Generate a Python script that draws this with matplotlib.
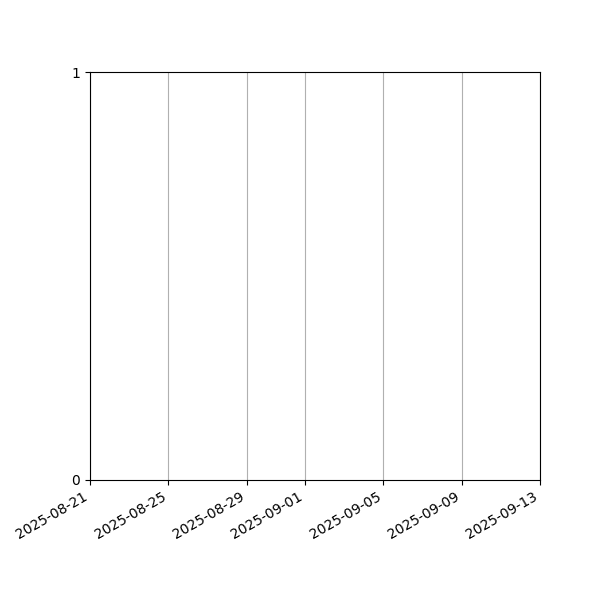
import matplotlib
matplotlib.use("Agg")
import matplotlib.pyplot as plt
import matplotlib.dates as mdates
import datetime as dt

# Data (chart shows no plotted series)
dates = []
values = []
x_range = ["2025-08-21", "2025-09-13"]
tick_labels = ["2025-08-21", "2025-08-25", "2025-08-29", "2025-09-01",
               "2025-09-05", "2025-09-09", "2025-09-13"]
y_ticks = [0, 1]

fig, ax = plt.subplots(figsize=(6, 6), dpi=100)
ax.plot([dt.datetime.fromisoformat(d) for d in dates], values)

tick_dates = [dt.datetime.fromisoformat(d) for d in tick_labels]
ax.set_xlim(dt.datetime.fromisoformat(x_range[0]), dt.datetime.fromisoformat(x_range[1]))
ax.set_xticks(tick_dates)
ax.xaxis.set_major_formatter(mdates.DateFormatter("%Y-%m-%d"))
ax.set_ylim(y_ticks[0], y_ticks[-1])
ax.set_yticks(y_ticks)
ax.grid(axis="x", color="#b0b0b0", linewidth=0.8)
fig.autofmt_xdate()
fig.subplots_adjust(left=0.15, right=0.9, top=0.88, bottom=0.2)
fig.savefig("out.png", dpi=100)
